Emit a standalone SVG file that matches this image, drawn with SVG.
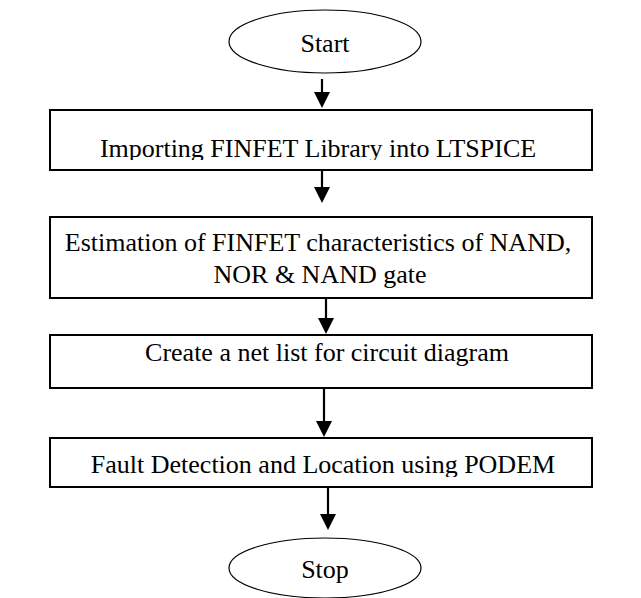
<svg xmlns="http://www.w3.org/2000/svg" width="641" height="598" viewBox="0 0 641 598">
<style>
.t{font-family:"Liberation Serif","Times New Roman",serif;font-size:26px;fill:#000;text-anchor:middle}
.box{fill:#fff;stroke:#000;stroke-width:2}
.ell{fill:#fff;stroke:#000;stroke-width:1.2}
.c{stroke:#000;stroke-width:2.2;fill:none}
.h{fill:#000}
</style>
<defs>
<clipPath id="cp1"><rect x="50" y="110" width="542" height="50"/></clipPath>
<clipPath id="cp4"><rect x="50" y="438" width="542" height="39"/></clipPath>
</defs>
<g id="start">
<ellipse class="ell" cx="325" cy="41.5" rx="96" ry="31.5"/>
<text class="t" x="325" y="52">Start</text>
</g>
<g id="n1">
<rect class="box" x="50" y="110" width="542" height="60"/>
<text class="t" x="318" y="157" clip-path="url(#cp1)">Importing FINFET Library into LTSPICE</text>
</g>
<g id="n2">
<rect class="box" x="50" y="217" width="542" height="81"/>
<text class="t" x="318" y="251">Estimation of FINFET characteristics of NAND,</text>
<text class="t" x="320" y="283">NOR &amp; NAND gate</text>
</g>
<g id="n3">
<rect class="box" x="50" y="335" width="542" height="53"/>
<text class="t" x="327" y="361">Create a net list for circuit diagram</text>
</g>
<g id="n4">
<rect class="box" x="50" y="438" width="542" height="49"/>
<text class="t" x="323" y="473" clip-path="url(#cp4)">Fault Detection and Location using PODEM</text>
</g>
<g id="stop">
<ellipse class="ell" cx="325" cy="568" rx="96" ry="30"/>
<text class="t" x="325" y="578">Stop</text>
</g>
<g id="connectors">
<path class="c" d="M322,79 L322,93"/><path class="h" d="M314,92 L330,92 L322,108 z"/>
<path class="c" d="M322,170 L322,188"/><path class="h" d="M314,187 L330,187 L322,203 z"/>
<path class="c" d="M326,298 L326,319"/><path class="h" d="M318,318 L334,318 L326,334 z"/>
<path class="c" d="M324,388 L324,422"/><path class="h" d="M316,421 L332,421 L324,437 z"/>
<path class="c" d="M328,487 L328,515"/><path class="h" d="M320,514 L336,514 L328,530 z"/>
</g>
</svg>
